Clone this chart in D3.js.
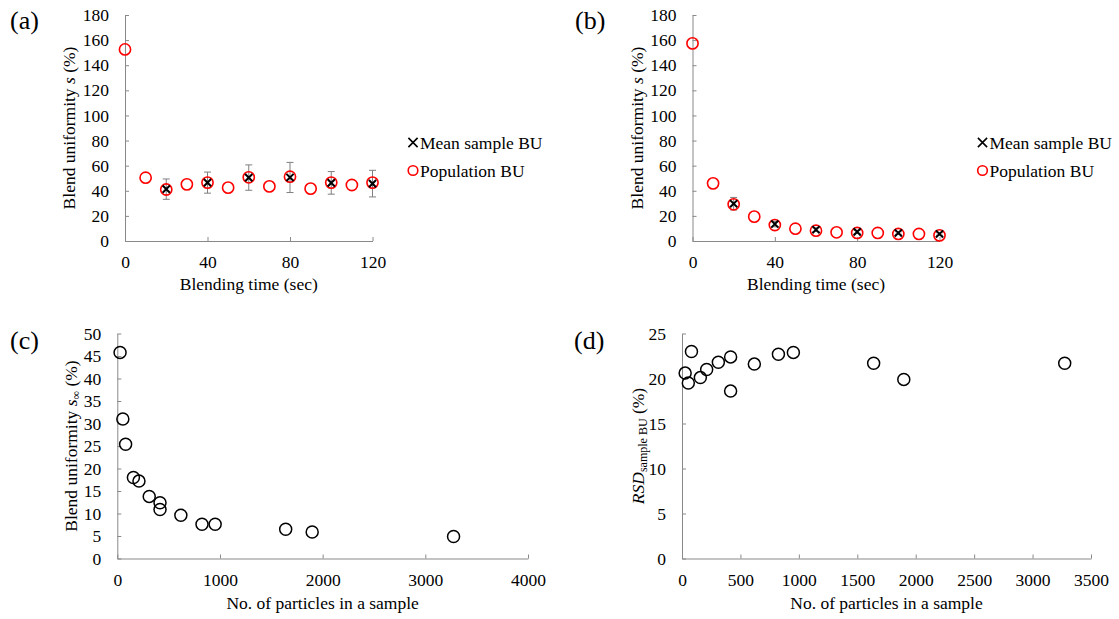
<!DOCTYPE html>
<html>
<head>
<meta charset="utf-8">
<script src="https://cdn.jsdelivr.net/npm/d3@7"></script>
<style>
body { margin: 0; background: #fff; }
svg text { font-family: 'Liberation Serif', 'Times New Roman', Times, 'DejaVu Serif', serif !important; }
.axis path, .axis line { stroke: #898989; }
.axis text { font-size: 17.5px; fill: #000; }
.lbl { font-size: 17.5px; fill: #000; }
</style>
</head>
<body>
<script>

// (a) and (b): blending time
const popTimes = [0, 10, 20, 30, 40, 50, 60, 70, 80, 90, 100, 110, 120];
const sampleTimes = [20, 40, 60, 80, 100, 120];

const popA = [152.6, 50.4, 41.0, 45.1, 46.5, 42.5, 50.7, 43.5, 51.2, 41.7, 46.5, 44.6, 46.5];
const meanA = [41.3, 46.5, 50.5, 50.6, 46.3, 45.7];
const errA = [8.1, 8.4, 10.1, 12.0, 9.0, 10.6];

const popB = [157.4, 45.9, 29.2, 19.4, 12.7, 9.8, 8.2, 6.9, 6.4, 6.4, 5.6, 5.6, 4.5];
const meanB = [29.7, 13.5, 9.0, 7.3, 6.4, 5.6];
const errB = [5.0, 2.2, 1.5, 1.2, 1.0, 1.0];

// (c) and (d): sample size
const particles = [27, 54, 81, 157, 211, 311, 416, 416, 619, 825, 953, 1640, 1898, 3275];
const sInf = [45.8, 31.0, 25.4, 18.0, 17.2, 13.8, 12.4, 10.9, 9.6, 7.6, 7.6, 6.5, 5.9, 4.9];
const rsd = [20.6, 19.5, 23.0, 20.1, 21.0, 21.8, 22.4, 18.6, 21.6, 22.7, 22.9, 21.7, 19.9, 21.7];

const timeTicks = [0, 40, 80, 120];
const buTicks = [0, 20, 40, 60, 80, 100, 120, 140, 160, 180];
const partTicksC = [0, 1000, 2000, 3000, 4000];
const sTicksC = [0, 5, 10, 15, 20, 25, 30, 35, 40, 45, 50];
const partTicksD = [0, 500, 1000, 1500, 2000, 2500, 3000, 3500];
const rsdTicksD = [0, 5, 10, 15, 20, 25];

const svg = d3.select('body').append('svg')
	.attr('width', 1119)
	.attr('height', 619);

function axes(x, y, xTicks, yTicks) {
	svg.append('g')
		.attr('class', 'axis')
		.attr('transform', 'translate(0,' + y.range()[0] + ')')
		.call(d3.axisBottom(x).tickValues(xTicks).tickSizeInner(-4).tickSizeOuter(0)
			.tickPadding(15).tickFormat(d3.format('d')));
	svg.append('g')
		.attr('class', 'axis')
		.attr('transform', 'translate(' + x.range()[0] + ',0)')
		.call(d3.axisLeft(y).tickValues(yTicks).tickSizeInner(-4).tickSizeOuter(0)
			.tickPadding(16).tickFormat(d3.format('d')));
}

function panelLabel(txt, x, y) {
	svg.append('text').attr('x', x).attr('y', y)
		.style('font-size', '26px').text(txt);
}

function xTitle(txt, x, y) {
	svg.append('text').attr('class', 'lbl')
		.attr('x', (x.range()[0] + x.range()[1]) / 2)
		.attr('y', y)
		.attr('text-anchor', 'middle')
		.text(txt);
}

function yTitle(cx, cy) {
	return svg.append('text').attr('class', 'lbl')
		.attr('transform', 'translate(' + cx + ',' + cy + ') rotate(-90)')
		.attr('text-anchor', 'middle');
}

function crossPath(cx, cy, s) {
	return 'M' + (cx - s) + ',' + (cy - s) + 'L' + (cx + s) + ',' + (cy + s) +
		'M' + (cx - s) + ',' + (cy + s) + 'L' + (cx + s) + ',' + (cy - s);
}

function timePanel(x, y, pop, mean, err, legX, tag, tagX) {
	axes(x, y, timeTicks, buTicks);

	// error bars
	const eb = svg.append('g').attr('stroke', '#7f7f7f').attr('stroke-width', 1);
	sampleTimes.forEach((t, i) => {
		const px = x(t);
		const y1 = y(mean[i] + err[i]);
		const y2 = y(mean[i] - err[i]);
		eb.append('line').attr('x1', px).attr('x2', px).attr('y1', y1).attr('y2', y2);
		eb.append('line').attr('x1', px - 3.5).attr('x2', px + 3.5).attr('y1', y1).attr('y2', y1);
		eb.append('line').attr('x1', px - 3.5).attr('x2', px + 3.5).attr('y1', y2).attr('y2', y2);
	});

	svg.append('g').selectAll('circle')
		.data(pop)
		.enter()
		.append('circle')
		.attr('cx', (d, i) => x(popTimes[i]))
		.attr('cy', (d) => y(d))
		.attr('r', 5.6)
		.attr('fill', 'none')
		.attr('stroke', '#ff0000')
		.attr('stroke-width', 1.6);

	svg.append('g').selectAll('path')
		.data(mean)
		.enter()
		.append('path')
		.attr('d', (d, i) => crossPath(x(sampleTimes[i]), y(d), 3.6))
		.attr('stroke', '#000')
		.attr('stroke-width', 2)
		.attr('fill', 'none');

	// legend
	svg.append('path').attr('d', crossPath(legX, 142.5, 4.6))
		.attr('stroke', '#000').attr('stroke-width', 1.6);
	svg.append('text').attr('class', 'lbl').attr('x', legX + 7).attr('y', 148.5).text('Mean sample BU');
	svg.append('circle').attr('cx', legX).attr('cy', 170.5).attr('r', 4.8)
		.attr('fill', 'none').attr('stroke', '#ff0000').attr('stroke-width', 1.6);
	svg.append('text').attr('class', 'lbl').attr('x', legX + 7).attr('y', 176.5).text('Population BU');

	xTitle('Blending time (sec)', x, 290);
	const t = yTitle(x.range()[0] - 50, (y.range()[0] + y.range()[1]) / 2);
	t.append('tspan').text('Blend uniformity ');
	t.append('tspan').style('font-style', 'italic').text('s');
	t.append('tspan').text(' (%)');

	panelLabel(tag, tagX, 29);
}

// (a)
const xA = d3.scaleLinear().domain([0, 120]).range([125, 372.5]);
const yA = d3.scaleLinear().domain([0, 180]).range([241, 15]);
timePanel(xA, yA, popA, meanA, errA, 413, '(a)', 10);

// (b)
const xB = d3.scaleLinear().domain([0, 120]).range([692.5, 939.5]);
const yB = d3.scaleLinear().domain([0, 180]).range([241, 15]);
timePanel(xB, yB, popB, meanB, errB, 982.5, '(b)', 575);

function scatter(x, y, vals) {
	svg.append('g').selectAll('circle')
		.data(vals)
		.enter()
		.append('circle')
		.attr('cx', (d, i) => x(particles[i]))
		.attr('cy', (d) => y(d))
		.attr('r', 6)
		.attr('fill', 'none')
		.attr('stroke', '#000')
		.attr('stroke-width', 1.5);
}

// (c)
const xC = d3.scaleLinear().domain([0, 4000]).range([117.3, 528]);
const yC = d3.scaleLinear().domain([0, 50]).range([558.5, 333.5]);
axes(xC, yC, partTicksC, sTicksC);
scatter(xC, yC, sInf);
xTitle('No. of particles in a sample', xC, 609);
const tc = yTitle(77, 446);
tc.append('tspan').text('Blend uniformity ');
tc.append('tspan').style('font-style', 'italic').text('s');
tc.append('tspan').attr('dy', 3).style('font-size', '12px').text('∞');
tc.append('tspan').attr('dy', -3).text(' (%)');
panelLabel('(c)', 10, 349);

// (d)
const xD = d3.scaleLinear().domain([0, 3500]).range([682, 1091]);
const yD = d3.scaleLinear().domain([0, 25]).range([558.5, 333.5]);
axes(xD, yD, partTicksD, rsdTicksD);
scatter(xD, yD, rsd);
xTitle('No. of particles in a sample', xD, 609);
const td = yTitle(644, 446);
td.append('tspan').style('font-style', 'italic').text('RSD');
td.append('tspan').attr('dy', 3).style('font-size', '12px').text('sample BU');
td.append('tspan').attr('dy', -3).text(' (%)');
panelLabel('(d)', 574, 349);

</script>
</body>
</html>
